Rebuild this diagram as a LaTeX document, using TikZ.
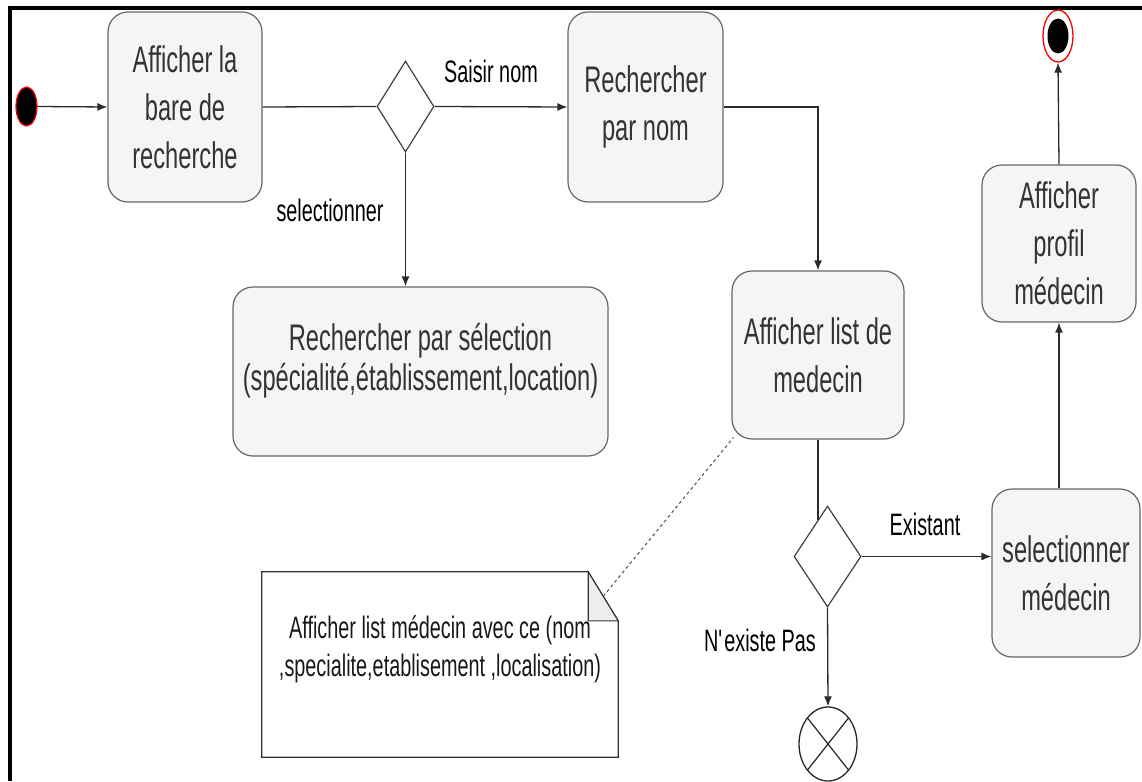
\documentclass[tikz,border=0pt]{standalone}
\usepackage{fontspec}
\setmainfont{Liberation Sans}[FakeStretch=0.64]
\usetikzlibrary{shapes.geometric,arrows.meta,calc}
\definecolor{boxfill}{HTML}{F5F5F5}
\definecolor{boxline}{HTML}{666666}
\definecolor{boxtext}{HTML}{333333}
\definecolor{flow}{HTML}{2B2B2B}
\definecolor{startred}{HTML}{FF0000}
\definecolor{foldfill}{HTML}{EEEEEE}

\begin{document}
\begin{tikzpicture}[x=1pt,y=-1pt,
  action/.style={draw=boxline, fill=boxfill, rounded corners=20pt, line width=1.2pt,
    text=boxtext, align=center, inner sep=0pt, font=\fontsize{37}{48}\selectfont},
  boxtxt/.style={text=boxtext, align=center, inner sep=0pt},
  decision/.style={diamond, draw=black!75, fill=white, line width=1.2pt, inner sep=0pt},
  flowline/.style={draw=flow, line width=1.3pt},
  flowarrow/.style={flowline, -{Latex[length=10pt,width=8pt]}},
  guard/.style={font=\fontsize{31}{38}\selectfont, text=black, inner sep=0pt},
  notetext/.style={font=\fontsize{31}{38}\selectfont, text=black!90, align=center, inner sep=0pt},
  notelink/.style={draw=black!70, line width=1pt, dash pattern=on 3pt off 3pt}]

\useasboundingbox (0,0) rectangle (1142,781);
\fill[white] (0,0) rectangle (1142,781);

% frame along the top and left edges
\draw[line width=4pt] (10,781) -- (10,8) -- (1142,8);

% start and end states
\node[ellipse, fill=black, draw=startred, line width=1.2pt, minimum width=21pt, minimum height=39pt, inner sep=0pt] (init) at (26.5,106.5) {};
\node[ellipse, fill=white, draw=startred, line width=1.3pt, minimum width=30pt, minimum height=52pt, inner sep=0pt] (fin) at (1058,36) {};
\node[ellipse, fill=black, minimum width=21pt, minimum height=35pt, inner sep=0pt] (finin) at (fin.center) {};

% actions
\node[action, minimum width=154pt, minimum height=190pt] (b1) at (185,107) {Afficher la\\bare de\\recherche};
\node[action, minimum width=155pt, minimum height=190pt] (b2) at (645.5,107) {Rechercher\\par nom};
\node[action, minimum width=172pt, minimum height=168pt] (b3) at (818,355) {Afficher list de\\medecin};
\node[action, minimum width=375pt, minimum height=169pt] (b4) at (420.5,371.5) {};
\node[boxtxt, font=\fontsize{37}{40}\selectfont] (b4t) at ([yshift=11pt]b4.center) {Rechercher par sélection\\(spécialité,établissement,location)};
\node[action, minimum width=148pt, minimum height=168pt] (b5) at (1066,573) {selectionner\\médecin};
\node[action, minimum width=154pt, minimum height=157pt] (b6) at (1059,243.5) {Afficher\\profil\\médecin};

% decisions
\node[decision, minimum width=57pt, minimum height=91pt] (d1) at (405.5,106.5) {};
\node[decision, minimum width=67pt, minimum height=101pt] (d2) at (827.5,556.5) {};

% flow final
\node[ellipse, draw=black!85, fill=white, line width=1.3pt, minimum width=58pt, minimum height=74pt, inner sep=0pt] (ff) at (828,744) {};
\draw[black!85, line width=1.2pt] (ff.north east) -- (ff.south west) (ff.north west) -- (ff.south east);

% note
\node[minimum width=356pt, minimum height=185pt, inner sep=0pt] (note) at (440,664.5) {};
\coordinate (foldA) at ([xshift=-30pt]note.north east);
\coordinate (foldB) at ([yshift=-49pt]note.north east);
\draw[black!80, fill=white, line width=1.2pt] (note.north west) -- (foldA) -- (foldB) -- (note.south east) -- (note.south west) -- cycle;
\draw[black!80, fill=foldfill, line width=1.1pt] (foldA) -- (foldA |- foldB) -- (foldB) -- cycle;
\node[notetext] (nt) at (440,649) {Afficher list médecin avec ce (nom\\,specialite,etablisement ,localisation)};

% connectors
\draw[flowarrow] (init.east) -- (b1.west);
\draw[flowline] (b1.east) -- (d1.west);
\draw[flowarrow] (d1.east) -- (b2.west);
\draw[flowarrow] (d1.south) -- (d1.south |- b4.north);
\draw[flowarrow] (b2.east) -| (b3.north);
\coordinate (d2in) at ($(d2.north)!0.29!(d2.west)$);
\draw[flowline] (b3.south) -- (b3.south |- d2in);
\draw[flowarrow] (d2.east) -- (d2.east -| b5.west);
\draw[flowarrow] (d2.south) -- (ff.north);
\draw[flowarrow] (b6.south |- b5.north) -- (b6.south);
\draw[flowarrow] (b6.north) -- (fin.south);
\draw[notelink] ($(foldA)!0.5!(foldB)$) -- ([xshift=2pt,yshift=2pt]b3.south west);

% guards
\node[guard] (g1) at (491,71) {Saisir nom};
\node[guard] (g2) at (330,210) {selectionner};
\node[guard] (g3) at (925,524) {Existant};
\node[guard] (g4) at (760,640) {N\textquotesingle existe Pas};

\end{tikzpicture}
\end{document}
